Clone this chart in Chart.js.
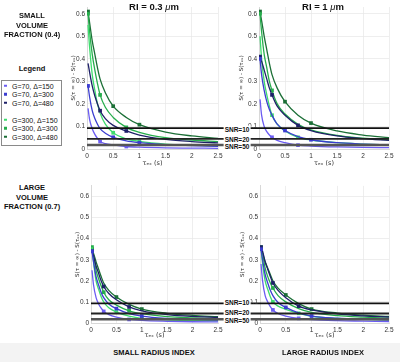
<!DOCTYPE html>
<html><head><meta charset="utf-8">
<script src="https://cdn.jsdelivr.net/npm/chart.js@4.4.1/dist/chart.umd.min.js"></script>
<style>
body{margin:0;width:400px;height:362px;background:#fff;position:relative;overflow:hidden;font-family:"Liberation Sans",Arial,sans-serif;}
.t{position:absolute;font-weight:bold;color:#111;text-align:center;white-space:nowrap;transform:translate(-50%,-50%);}
canvas{position:absolute;}
.box{position:absolute;left:1px;top:80px;width:59px;height:64px;border:1px solid #8a8a8a;background:#fff;}
.le{position:absolute;left:12px;font-size:7px;color:#111;white-space:nowrap;transform:translateY(-50%);}
.lm{position:absolute;left:4px;width:2.5px;height:2.5px;transform:translateY(-50%);}
.snr{position:absolute;font-size:6.5px;font-weight:bold;color:#111;background:#fff;padding:0 1px;line-height:7px;transform:translate(-50%,-50%);white-space:nowrap;}
.band{position:absolute;left:0;top:343px;width:400px;height:19px;background:#f3f3f3;}
</style></head>
<body>
<div class="band"></div>
<canvas id="tl" width="190" height="168" style="left:69px;top:0px;width:190px;height:168px"></canvas>
<canvas id="tr" width="163" height="168" style="left:237px;top:0px;width:163px;height:168px"></canvas>
<canvas id="bl" width="187" height="160" style="left:73px;top:180px;width:187px;height:160px"></canvas>
<canvas id="br" width="162" height="160" style="left:238px;top:180px;width:162px;height:160px"></canvas>

<div class="t" style="left:154px;top:6px;font-size:9.5px">RI = 0.3 <span style="font-weight:normal;font-style:italic">μ</span>m</div>
<div class="t" style="left:323px;top:6px;font-size:9.5px">RI = 1 <span style="font-weight:normal;font-style:italic">μ</span>m</div>

<div class="t" style="left:32px;top:15px;font-size:7.5px">SMALL</div>
<div class="t" style="left:32px;top:25px;font-size:7.5px">VOLUME</div>
<div class="t" style="left:32px;top:34px;font-size:7.5px">FRACTION (0.4)</div>

<div class="t" style="left:32px;top:68px;font-size:7.5px">Legend</div>
<div class="box"></div>
<div id="legend"></div>

<div class="t" style="left:32px;top:187px;font-size:7.5px">LARGE</div>
<div class="t" style="left:32px;top:197px;font-size:7.5px">VOLUME</div>
<div class="t" style="left:32px;top:206px;font-size:7.5px">FRACTION (0.7)</div>

<div class="t" style="left:154px;top:352px;font-size:7.5px">SMALL RADIUS INDEX</div>
<div class="t" style="left:323px;top:352px;font-size:7.5px">LARGE RADIUS INDEX</div>

<div class="snr" style="left:237px;top:128.5px">SNR=10</div>
<div class="snr" style="left:237px;top:138.5px">SNR=20</div>
<div class="snr" style="left:237px;top:145.5px">SNR=50</div>
<div class="snr" style="left:237px;top:302px">SNR=10</div>
<div class="snr" style="left:237px;top:311.5px">SNR=20</div>
<div class="snr" style="left:237px;top:319.5px">SNR=50</div>

<script>
// ---------- data ----------
const tau = [0.02, 0.05, 0.1, 0.15, 0.2, 0.25, 0.35, 0.5, 0.75, 1, 1.5, 2, 2.5];
const seriesLabels = ['G=70, Δ=150','G=70, Δ=300','G=70, Δ=480','G=300, Δ=150','G=300, Δ=300','G=300, Δ=480'];
const seriesColors = ['#6b5cf2','#3b3dd0','#1e2068','#3edc6e','#26ad4c','#1b6f36'];
const snrLevels = [0.093, 0.045, 0.018];
const snrLabels = ['SNR=10','SNR=20','SNR=50'];
const xTicks = [0, 0.5, 1, 1.5, 2, 2.5];
const yTicks = [0, 0.1, 0.2, 0.3, 0.4, 0.5, 0.6];

// small volume fraction (0.4), RI = 0.3 um
const curvesTL = [
  [0.18, 0.13, 0.09, 0.065, 0.047, 0.033, 0.024, 0.018, 0.011, 0.008, 0.005, 0.004, 0.003],
  [0.28, 0.23, 0.17, 0.135, 0.11, 0.09, 0.07, 0.052, 0.036, 0.028, 0.019, 0.015, 0.012],
  [0.38, 0.34, 0.28, 0.235, 0.2, 0.17, 0.135, 0.105, 0.08, 0.062, 0.043, 0.033, 0.027],
  [0.55, 0.45, 0.33, 0.26, 0.2, 0.16, 0.11, 0.072, 0.045, 0.034, 0.022, 0.017, 0.014],
  [0.60, 0.52, 0.42, 0.35, 0.29, 0.24, 0.185, 0.14, 0.096, 0.074, 0.05, 0.04, 0.033],
  [0.61, 0.56, 0.48, 0.42, 0.36, 0.31, 0.25, 0.19, 0.14, 0.108, 0.075, 0.058, 0.047]
];
const markersTL = [[0.25,0.75],[0.02,0.5,1],[0.25,0.75],[0.5,1],[0.02,0.25,0.75],[0.02,0.5,1]];

// small volume fraction (0.4), RI = 1 um
const curvesTR = [
  [0.22, 0.15, 0.10, 0.077, 0.062, 0.052, 0.038, 0.028, 0.017, 0.013, 0.009, 0.007, 0.006],
  [0.40, 0.33, 0.26, 0.21, 0.175, 0.15, 0.11, 0.082, 0.055, 0.041, 0.028, 0.022, 0.018],
  [0.41, 0.39, 0.35, 0.31, 0.27, 0.24, 0.19, 0.15, 0.105, 0.082, 0.058, 0.046, 0.038],
  [0.50, 0.40, 0.30, 0.24, 0.19, 0.15, 0.11, 0.08, 0.052, 0.04, 0.028, 0.022, 0.018],
  [0.60, 0.52, 0.42, 0.36, 0.30, 0.26, 0.2, 0.155, 0.11, 0.085, 0.06, 0.048, 0.04],
  [0.61, 0.57, 0.50, 0.44, 0.38, 0.33, 0.27, 0.21, 0.15, 0.115, 0.08, 0.062, 0.05]
];
const markersTR = [[0.25,0.75],[0.02,0.5,1],[0.02,0.25,0.75],[0.25,0.75],[0.02,0.25],[0.02,0.5,1]];

// large volume fraction (0.7), RI = 0.3 um
const curvesBL = [
  [0.25, 0.18, 0.12, 0.09, 0.07, 0.055, 0.04, 0.028, 0.017, 0.012, 0.008, 0.006, 0.005],
  [0.34, 0.29, 0.22, 0.18, 0.145, 0.12, 0.09, 0.068, 0.045, 0.033, 0.022, 0.017, 0.014],
  [0.34, 0.32, 0.27, 0.235, 0.2, 0.173, 0.14, 0.11, 0.076, 0.058, 0.04, 0.031, 0.026],
  [0.36, 0.29, 0.2, 0.16, 0.125, 0.10, 0.072, 0.052, 0.033, 0.022, 0.015, 0.012, 0.01],
  [0.36, 0.32, 0.25, 0.21, 0.175, 0.146, 0.11, 0.085, 0.058, 0.044, 0.03, 0.024, 0.02],
  [0.35, 0.33, 0.29, 0.255, 0.22, 0.19, 0.155, 0.123, 0.088, 0.066, 0.046, 0.036, 0.03]
];
const markersBL = [[0.25,0.75],[0.02,0.5,1],[0.02,0.25,0.75],[0.5,1],[0.02,0.25,0.75],[0.02,0.5,1]];

// large volume fraction (0.7), RI = 1 um
const curvesBR = [
  [0.28, 0.2, 0.13, 0.1, 0.078, 0.062, 0.045, 0.033, 0.022, 0.016, 0.011, 0.009, 0.007],
  [0.35, 0.3, 0.23, 0.19, 0.155, 0.13, 0.097, 0.074, 0.048, 0.033, 0.023, 0.018, 0.015],
  [0.36, 0.34, 0.29, 0.255, 0.22, 0.19, 0.155, 0.12, 0.08, 0.062, 0.043, 0.034, 0.028],
  [0.35, 0.28, 0.2, 0.16, 0.125, 0.10, 0.08, 0.065, 0.046, 0.032, 0.022, 0.017, 0.014],
  [0.36, 0.33, 0.26, 0.22, 0.19, 0.166, 0.13, 0.10, 0.068, 0.05, 0.035, 0.028, 0.023],
  [0.35, 0.33, 0.29, 0.26, 0.23, 0.2, 0.165, 0.133, 0.092, 0.066, 0.047, 0.037, 0.031]
];
const markersBR = [[0.25,0.75],[0.02,0.5,1],[0.02,0.25,0.75],[0.25,0.75],[0.02,0.25],[0.02,0.5,1]];

// ---------- legend ----------
const legendY = [85.5, 94, 102.5, 119.5, 128, 136.5];
const legEl = document.getElementById('legend');
seriesLabels.forEach((lab,i)=>{
  const m = document.createElement('div'); m.className='lm';
  m.style.top = legendY[i]+'px'; m.style.background = seriesColors[i];
  legEl.appendChild(m);
  const t = document.createElement('div'); t.className='le';
  t.style.top = legendY[i]+'px'; t.textContent = lab;
  legEl.appendChild(t);
});

// ---------- charts ----------
const snrColors = ['#111','#222','#555'];
const snrWidths = [1.8, 1.8, 2.4];

const gapPlugin = {
  id: 'gapLines',
  afterDatasetsDraw(chart, args, opts) {
    if (!opts.extend) return;
    const {ctx, chartArea, scales} = chart;
    snrLevels.forEach((lv,i)=>{
      const py = scales.y.getPixelForValue(lv);
      ctx.save();
      ctx.strokeStyle = snrColors[i]; ctx.lineWidth = snrWidths[i];
      ctx.beginPath(); ctx.moveTo(chartArea.right, py); ctx.lineTo(chart.width, py); ctx.stroke();
      ctx.restore();
    });
  }
};

function makeChart(id, curves, markers, cfg) {
  const datasets = [];
  snrLevels.forEach((lv,i)=>{
    datasets.push({
      label: snrLabels[i], type:'line',
      data: [{x:xTicks[0], y:lv},{x:xTicks[xTicks.length-1], y:lv}],
      borderColor: snrColors[i], borderWidth: snrWidths[i], pointRadius:0, order:0
    });
  });
  curves.forEach((vals,s)=>{
    datasets.push({
      label: seriesLabels[s], type:'line',
      data: tau.map((t,k)=>({x:t, y:vals[k]})),
      borderColor: seriesColors[s], backgroundColor: seriesColors[s],
      borderWidth: 1.3, cubicInterpolationMode:'monotone',
      pointStyle:'rect',
      pointRadius: tau.map(t => markers[s].includes(t) ? 2.6 : 0),
      pointBorderWidth: 0,
      order: 1
    });
  });
  return new Chart(document.getElementById(id), {
    type:'line',
    data:{datasets},
    plugins:[gapPlugin],
    options:{
      responsive:false, animation:false, devicePixelRatio:1,
      layout:{padding:{top:cfg.padTop, right:cfg.padRight, left:0, bottom:0}},
      plugins:{legend:{display:false}, tooltip:{enabled:false}, gapLines:{extend:cfg.extend}},
      scales:{
        x:{type:'linear', min:0, max:2.5,
           afterFit: s => { s.height = cfg.xH; },
           afterBuildTicks: s => { s.ticks = xTicks.map(v=>({value:v})); },
           ticks:{font:{size:6.5, family:'Liberation Sans'}, color:'#333', padding:3, maxRotation:0,
                  callback: v => String(v)},
           grid:{color:'#e6e6e6', lineWidth:0.7, drawTicks:false},
           border:{color:'#d8d8d8'},
           title:{display:true, text:'τₑₓ (s)', font:{size:6.5, family:'DejaVu Sans'}, color:'#333', padding:{top:0,bottom:1}}
        },
        y:{type:'linear', min:0, max:cfg.yMax,
           afterFit: s => { s.width = cfg.yW; },
           afterBuildTicks: s => { s.ticks = yTicks.map(v=>({value:v})); },
           ticks:{font:{size:6.5, family:'Liberation Sans'}, color:'#333', padding:2,
                  callback: v => String(v)},
           grid:{color:'#e6e6e6', lineWidth:0.7, drawTicks:false},
           border:{color:'#d8d8d8'},
           title:{display:true, text:'S(τ = ∞) - S(τₑₓ)', font:{size:5.5, family:'DejaVu Sans'}, color:'#333', padding:{top:1,bottom:0}}
        }
      }
    }
  });
}

makeChart('tl', curvesTL, markersTL, {padTop:7, padRight:41, xH:19, yW:18, yMax:0.63, extend:true});
makeChart('tr', curvesTR, markersTR, {padTop:7, padRight:11, xH:19, yW:22, yMax:0.63, extend:false});
makeChart('bl', curvesBL, markersBL, {padTop:5, padRight:42, xH:17, yW:18, yMax:0.65, extend:true});
makeChart('br', curvesBR, markersBR, {padTop:5, padRight:11, xH:17, yW:22, yMax:0.65, extend:false});
</script>
</body></html>
